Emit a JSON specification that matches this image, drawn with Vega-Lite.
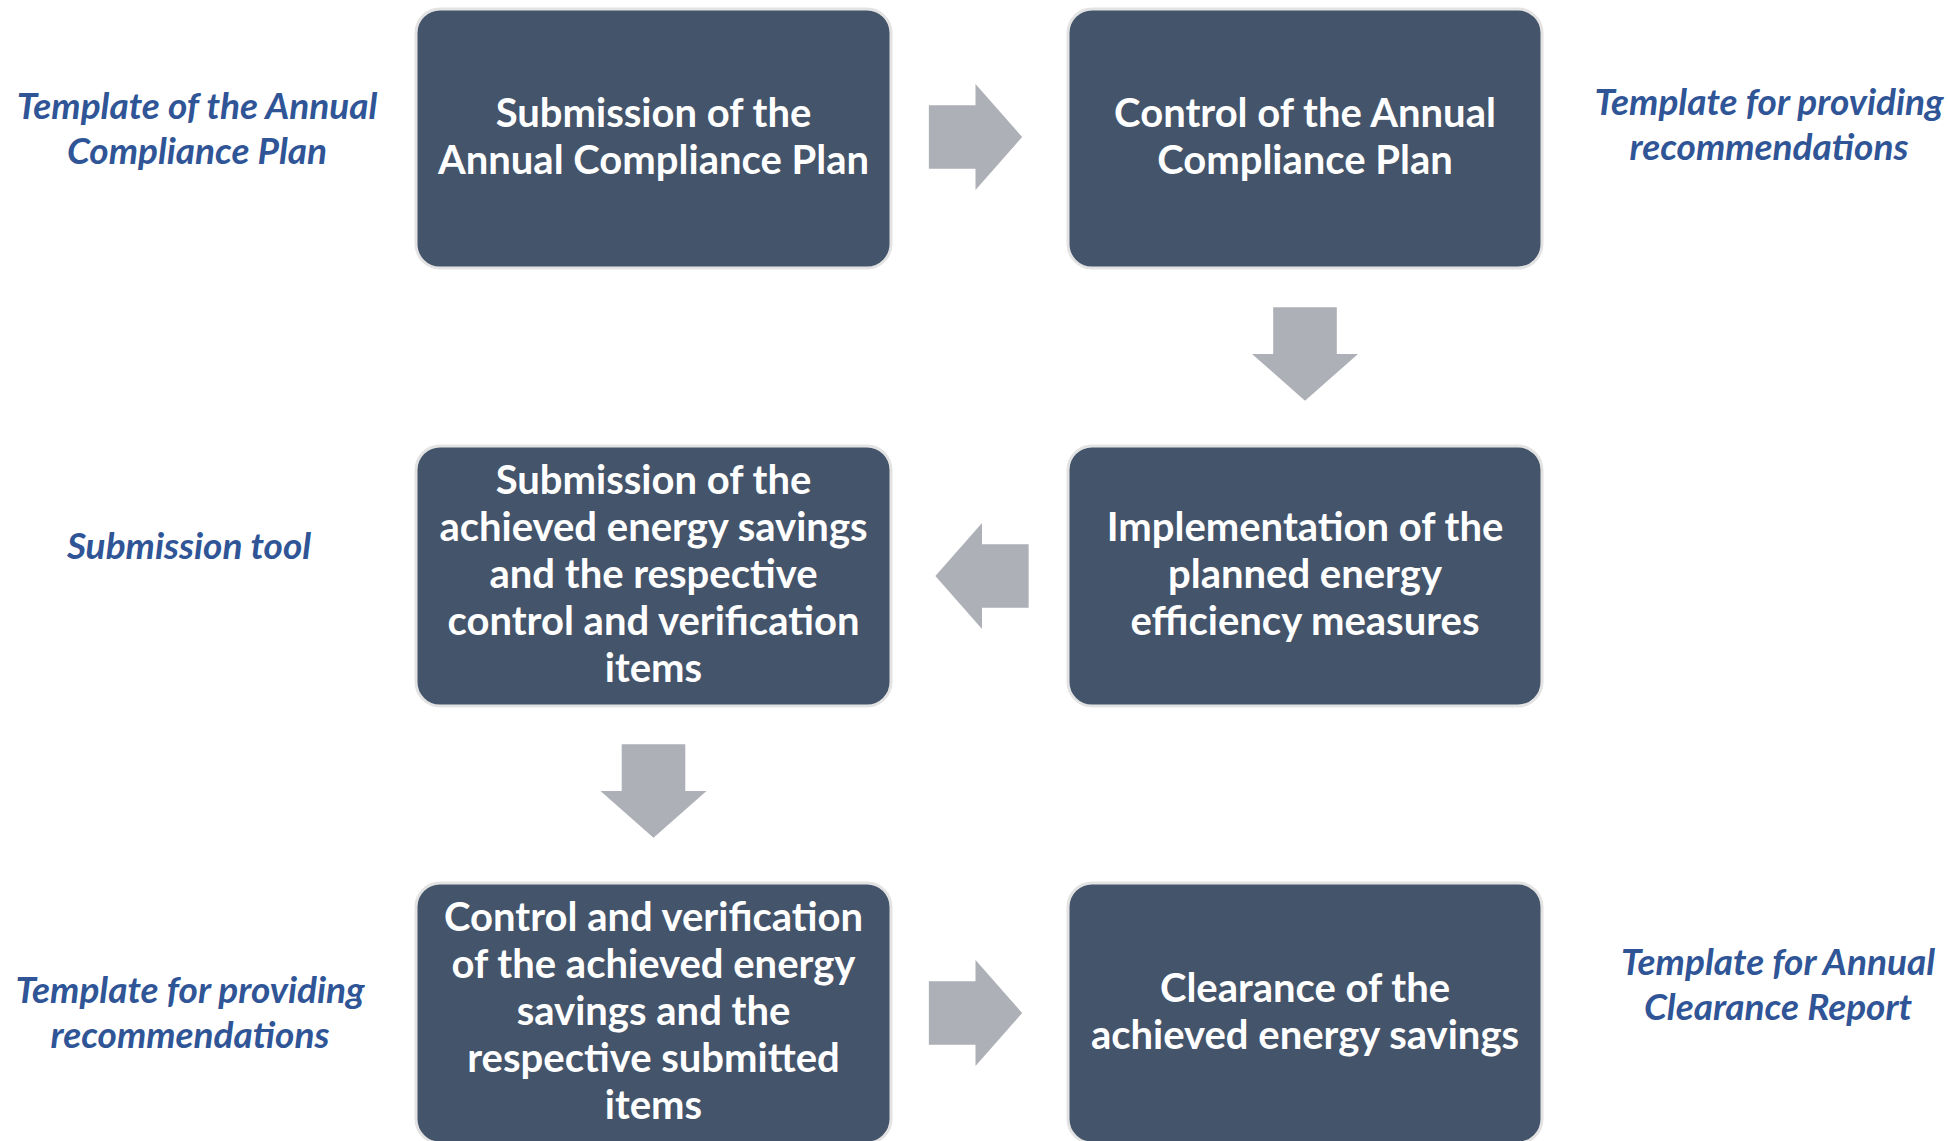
{
  "$schema": "https://vega.github.io/schema/vega-lite/v6.json",
  "width": 1948,
  "height": 1141,
  "padding": 0,
  "autosize": {"type": "none"},
  "background": "white",
  "config": {"view": {"stroke": null}},
  "datasets": {
    "boxes": [
      {"id": "b1", "x0": 416, "x1": 891, "y0": 9, "y1": 268, "label": "Submission of the\nAnnual Compliance Plan"},
      {"id": "b2", "x0": 1068, "x1": 1542, "y0": 9, "y1": 268, "label": "Control of the Annual\nCompliance Plan"},
      {"id": "b3", "x0": 416, "x1": 891, "y0": 446, "y1": 706, "label": "Submission of the\nachieved energy savings\nand the respective\ncontrol and verification\nitems"},
      {"id": "b4", "x0": 1068, "x1": 1542, "y0": 446, "y1": 706, "label": "Implementation of the\nplanned energy\nefficiency measures"},
      {"id": "b5", "x0": 416, "x1": 891, "y0": 883, "y1": 1143, "label": "Control and verification\nof the achieved energy\nsavings and the\nrespective submitted\nitems"},
      {"id": "b6", "x0": 1068, "x1": 1542, "y0": 883, "y1": 1143, "label": "Clearance of the\nachieved energy savings"}
    ],
    "arrows": [
      {"a": "r1", "x": 975.5, "y": 137, "angle": 0},
      {"a": "d1", "x": 1305, "y": 354, "angle": 90},
      {"a": "l1", "x": 982, "y": 576, "angle": 180},
      {"a": "d2", "x": 653.5, "y": 791, "angle": 90},
      {"a": "r2", "x": 975.5, "y": 1013, "angle": 0}
    ],
    "notes": [
      {"x": 197, "y": 130, "label": "Template of the Annual\nCompliance Plan"},
      {"x": 1769, "y": 126, "label": "Template for providing\nrecommendations"},
      {"x": 189, "y": 548, "label": "Submission tool"},
      {"x": 190, "y": 1014, "label": "Template for providing\nrecommendations"},
      {"x": 1778, "y": 986, "label": "Template for Annual\nClearance Report"}
    ]
  },
  "layer": [
    {
      "data": {"name": "boxes"},
      "mark": {"type": "rect", "fill": "#44546A", "stroke": "#E3E3E3", "strokeWidth": 3, "cornerRadius": 24},
      "encoding": {
        "x": {"field": "x0", "type": "quantitative", "scale": {"domain": [0, 1948], "nice": false, "zero": false}, "axis": null},
        "x2": {"field": "x1"},
        "y": {"field": "y0", "type": "quantitative", "scale": {"domain": [1141, 0], "nice": false, "zero": false}, "axis": null},
        "y2": {"field": "y1"}
      }
    },
    {
      "data": {"name": "boxes"},
      "transform": [
        {"calculate": "(datum.x0 + datum.x1) / 2", "as": "cx"},
        {"calculate": "(datum.y0 + datum.y1) / 2 - (length(split(datum.label, '\\n')) - 1) * 47 / 2", "as": "cy"}
      ],
      "mark": {"type": "text", "color": "white", "font": "Lato", "fontWeight": "bold", "fontSize": 40, "lineHeight": 47, "lineBreak": "\n", "align": "center", "baseline": "middle"},
      "encoding": {
        "x": {"field": "cx", "type": "quantitative", "axis": null},
        "y": {"field": "cy", "type": "quantitative", "axis": null},
        "text": {"field": "label"}
      }
    },
    {
      "data": {"name": "arrows"},
      "mark": {"type": "point", "filled": true, "color": "#AEB0B7", "opacity": 1, "strokeWidth": 0, "size": 11236, "shape": "M-0.88,-0.6 L0,-0.6 L0,-1 L0.88,0 L0,1 L0,0.6 L-0.88,0.6 Z"},
      "encoding": {
        "x": {"field": "x", "type": "quantitative", "axis": null},
        "y": {"field": "y", "type": "quantitative", "axis": null},
        "angle": {"field": "angle", "type": "quantitative", "scale": null}
      }
    },
    {
      "data": {"name": "notes"},
      "transform": [
        {"calculate": "datum.y - (length(split(datum.label, '\\n')) - 1) * 45 / 2", "as": "ty"}
      ],
      "mark": {"type": "text", "color": "#2F5597", "font": "Lato", "fontWeight": "bold", "fontStyle": "italic", "fontSize": 37, "lineHeight": 45, "lineBreak": "\n", "align": "center", "baseline": "middle"},
      "encoding": {
        "x": {"field": "x", "type": "quantitative", "axis": null},
        "y": {"field": "ty", "type": "quantitative", "axis": null},
        "text": {"field": "label"}
      }
    }
  ]
}
